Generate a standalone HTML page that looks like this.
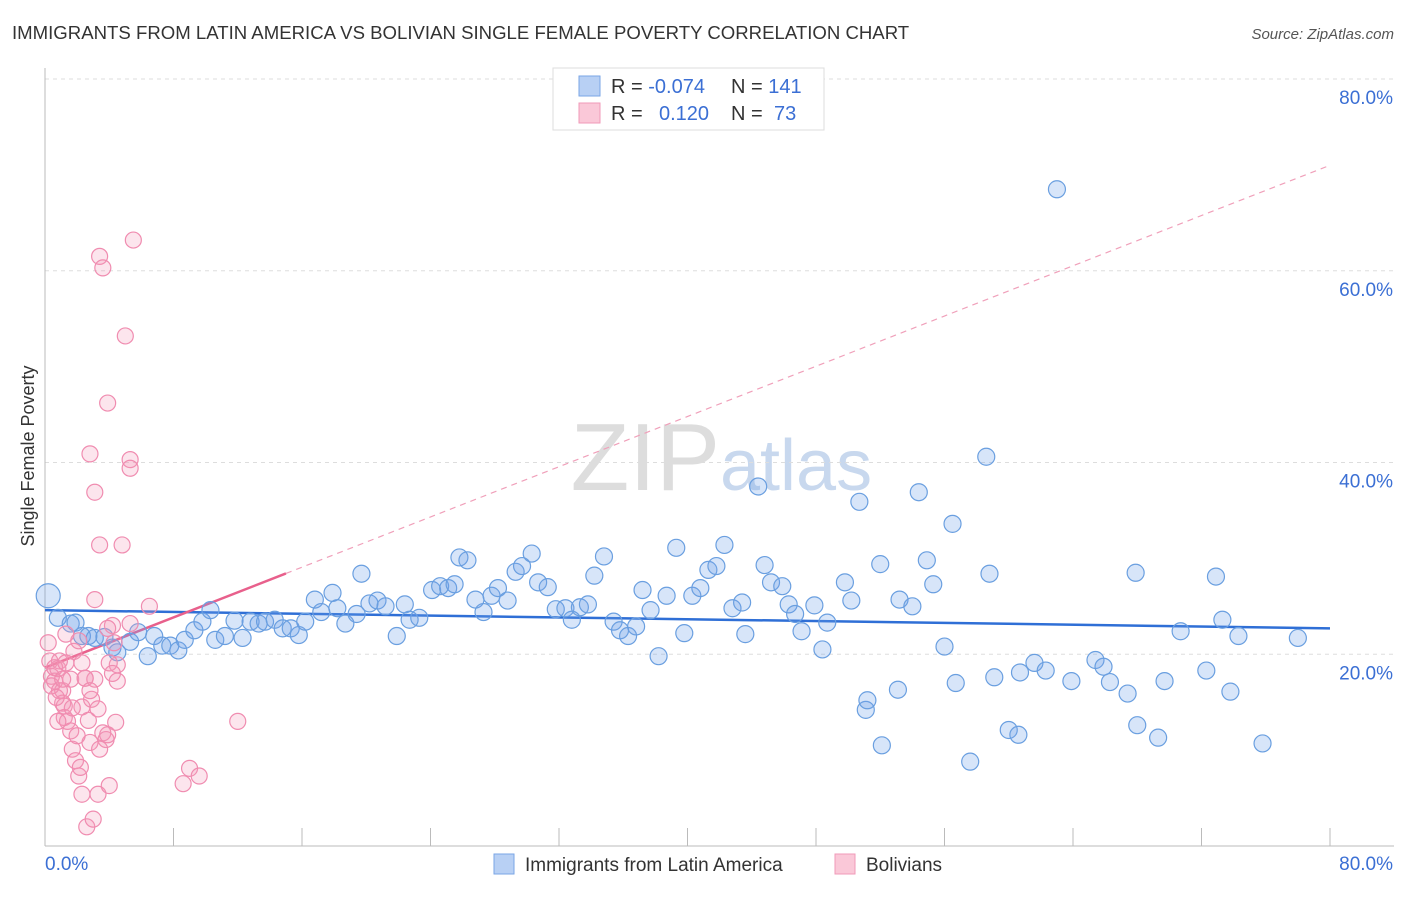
<!DOCTYPE html>
<html><head><meta charset="utf-8"><style>
body{margin:0;background:#fff;font-family:"Liberation Sans",sans-serif;}
svg text{font-family:"Liberation Sans",sans-serif;}
</style></head><body>
<svg id="chart" width="1406" height="892">
<text x="12" y="39" font-size="18.6" fill="#333">IMMIGRANTS FROM LATIN AMERICA VS BOLIVIAN SINGLE FEMALE POVERTY CORRELATION CHART</text>
<text x="1394" y="39" font-size="15" fill="#555" font-style="italic" text-anchor="end">Source: ZipAtlas.com</text>
<text x="720" y="490" font-size="96" fill="#ddd" text-anchor="end" font-family="Liberation Serif">ZIP</text>
<text x="720" y="490" font-size="72" fill="#c8d8ee">atlas</text>
<g id="grid"></g><g id="axes"></g><g id="trends"></g><g id="pts"></g>
<text transform="translate(34,456) rotate(-90)" font-size="18" fill="#333" text-anchor="middle">Single Female Poverty</text>
<g>
<rect x="553" y="68" width="271" height="62" fill="#fff" stroke="#ddd"/>
<rect x="579" y="76" width="21" height="20" fill="#b8d0f4" stroke="#7aa6e6"/>
<rect x="579" y="103" width="21" height="20" fill="#fac8d8" stroke="#f09ab8"/>
<text x="611" y="93" font-size="20" fill="#333">R = <tspan fill="#3b6fd4">-0.074</tspan><tspan x="731">N = </tspan><tspan fill="#3b6fd4">141</tspan></text>
<text x="611" y="120" font-size="20" fill="#333">R = <tspan x="659" fill="#3b6fd4">0.120</tspan><tspan x="731">N = </tspan><tspan x="774" fill="#3b6fd4">73</tspan></text>
</g>
<g>
<rect x="494" y="854" width="20" height="20" fill="#b8d0f4" stroke="#7aa6e6"/>
<text x="525" y="871" font-size="19" fill="#333">Immigrants from Latin America</text>
<rect x="835" y="854" width="20" height="20" fill="#fac8d8" stroke="#f09ab8"/>
<text x="866" y="871" font-size="19" fill="#333">Bolivians</text>
</g>
</svg>
<script>
const yTicks=[20,40,60,80];
const xTickLabels=["0.0%","80.0%"];
const blueX=[0.2,0.8,1.6,1.9,2.3,2.7,3.1,3.7,4.2,4.5,5.3,5.8,6.4,6.8,7.3,7.8,8.3,8.7,9.3,9.8,10.3,10.6,11.2,11.8,12.3,12.8,13.3,13.7,14.3,14.8,15.3,15.8,16.2,16.8,17.2,17.9,18.2,18.7,19.4,19.7,20.2,20.7,21.2,21.9,22.4,22.7,23.3,24.1,24.6,25.1,25.5,25.8,26.3,26.8,27.3,27.8,28.2,28.8,29.3,29.7,30.3,30.7,31.3,31.8,32.4,32.8,33.3,33.8,34.2,34.8,35.4,35.8,36.3,36.8,37.2,37.7,38.2,38.7,39.3,39.8,40.3,40.8,41.3,41.8,42.3,42.8,43.4,43.6,44.4,44.8,45.2,45.9,46.3,46.7,47.1,47.9,48.4,48.7,49.8,50.2,50.7,51.1,52.0,52.1,53.1,53.2,54.0,54.4,54.9,55.3,56.0,56.5,56.7,57.6,58.6,58.8,59.1,60.0,60.6,60.7,61.6,62.3,63.0,63.9,65.4,65.9,66.3,67.4,67.9,68.0,69.3,69.7,70.7,72.3,72.9,73.3,73.8,74.3,75.8,78.0,51.2];
const blueY=[26.1,23.8,23.2,23.3,21.9,21.9,21.7,21.8,20.7,20.2,21.3,22.3,19.8,21.9,20.9,20.9,20.4,21.5,22.5,23.4,24.6,21.5,21.9,23.5,21.7,23.4,23.2,23.4,23.6,22.7,22.7,22.0,23.4,25.7,24.4,26.4,24.8,23.2,24.2,28.4,25.3,25.6,25.0,21.9,25.2,23.6,23.8,26.7,27.1,26.9,27.3,30.1,29.8,25.7,24.4,26.1,26.9,25.6,28.6,29.2,30.5,27.5,27.0,24.7,24.8,23.6,24.9,25.2,28.2,30.2,23.4,22.5,21.9,22.9,26.7,24.6,19.8,26.1,31.1,22.2,26.1,26.9,28.8,29.2,31.4,24.8,25.4,22.1,37.5,29.3,27.5,27.1,25.2,24.2,22.4,25.1,20.5,23.3,27.5,25.6,35.9,14.2,29.4,10.5,16.3,25.7,25.0,36.9,29.8,27.3,20.8,33.6,17.0,8.8,40.6,28.4,17.6,12.1,11.6,18.1,19.1,18.3,68.5,17.2,19.4,18.7,17.1,15.9,28.5,12.6,11.3,17.2,22.4,18.3,28.1,23.6,16.1,21.9,10.7,21.7,15.2];
const pinkX=[0.2,0.3,0.4,0.6,0.8,0.9,1.1,1.2,1.4,1.6,1.7,1.9,2.1,2.3,2.6,3.0,3.3,3.4,3.6,4.0,3.1,2.8,3.1,3.4,3.9,4.2,4.5,4.5,4.8,5.0,5.3,5.3,5.5,5.3,6.5,8.6,9.0,9.6,12.0,0.8,1.1,1.2,1.6,1.8,2.1,2.3,2.3,2.5,2.7,2.8,2.9,3.1,3.3,3.6,3.8,3.9,4.0,4.2,4.4,1.3,0.9,0.4,0.7,1.7,2.0,2.2,2.5,2.8,3.4,3.9,4.3,0.6,1.1,1.3];
const pinkY=[21.2,19.3,17.7,17.2,18.5,16.2,14.9,13.4,13.0,12.0,10.1,8.9,7.3,5.4,2.0,2.8,5.4,61.5,60.3,6.3,25.7,40.9,36.9,31.4,46.2,23.0,18.9,17.2,31.4,53.2,40.3,39.4,63.2,23.2,25.0,6.5,8.1,7.3,13.0,13.0,16.2,14.6,17.4,20.3,21.4,14.5,19.1,17.5,13.1,10.8,15.3,17.4,14.3,11.8,11.1,22.7,19.1,18.0,12.9,22.1,19.3,16.7,15.5,14.4,11.5,8.2,17.5,16.2,10.1,11.6,21.2,18.6,17.4,19.1];
const blueTrend=[24.6,22.7];
const pinkTrend=[18.6,0.655];
const X0=45,X1=1330,Y0=846,Y80=79;
const sx=v=>X0+(v/80)*(X1-X0);
const sy=v=>Y0-(v/80)*(Y0-Y80);
const NS="http://www.w3.org/2000/svg";
function mk(tag,attrs,parent){const e=document.createElementNS(NS,tag);for(const k in attrs)e.setAttribute(k,attrs[k]);document.getElementById(parent).appendChild(e);return e;}
yTicks.forEach(t=>{
 const l=mk('line',{x1:X0,x2:1394,y1:sy(t),y2:sy(t),stroke:'#ddd','stroke-dasharray':'4,4'},'grid');
 
 
 const tx=mk('text',{x:1393,y:sy(t)+25,'font-size':19,fill:'#3b6fd4','text-anchor':'end'},'grid');
 tx.textContent=t.toFixed(1)+'%';
 
 
});
const ax=mk('line',{x1:X0,x2:X0,y1:68,y2:Y0,stroke:'#bbb'},'axes');


const bx=mk('line',{x1:X0,x2:1394,y1:Y0,y2:Y0,stroke:'#bbb'},'axes');


for(let i=0;i<=10;i++){const t=mk('line',{x1:sx(i*8),x2:sx(i*8),y1:Y0-18,y2:Y0,stroke:'#bbb'},'axes');
 
 }
const xl0=mk('text',{x:45,y:870,'font-size':19,fill:'#3b6fd4'},'axes');xl0.textContent=xTickLabels[0];


const xl1=mk('text',{x:1393,y:870,'font-size':19,fill:'#3b6fd4','text-anchor':'end'},'axes');xl1.textContent=xTickLabels[1];


const bt=mk('line',{x1:sx(0),y1:sy(blueTrend[0]),x2:sx(80),y2:sy(blueTrend[1]),stroke:'#2f6fd6','stroke-width':2.5},'trends');


const pd=mk('line',{x1:sx(15),y1:sy(pinkTrend[0]+15*pinkTrend[1]),x2:sx(80),y2:sy(pinkTrend[0]+80*pinkTrend[1]),stroke:'#f0a0ba','stroke-width':1.2,'stroke-dasharray':'6,5'},'trends');


const ps=mk('line',{x1:sx(0),y1:sy(pinkTrend[0]),x2:sx(15),y2:sy(pinkTrend[0]+15*pinkTrend[1]),stroke:'#e8608c','stroke-width':2.5},'trends');


blueX.forEach((v,i)=>{const c=mk('circle',{cx:sx(v),cy:sy(blueY[i]),r:i==0?12:8.5,fill:'rgba(110,160,235,0.28)',stroke:'#6a9fe0','stroke-width':1.2},'pts');
 
 });
pinkX.forEach((v,i)=>{const c=mk('circle',{cx:sx(v),cy:sy(pinkY[i]),r:8,fill:'rgba(245,150,185,0.25)',stroke:'#f08cb0','stroke-width':1.2},'pts');
 
 });
</script>
</body></html>
